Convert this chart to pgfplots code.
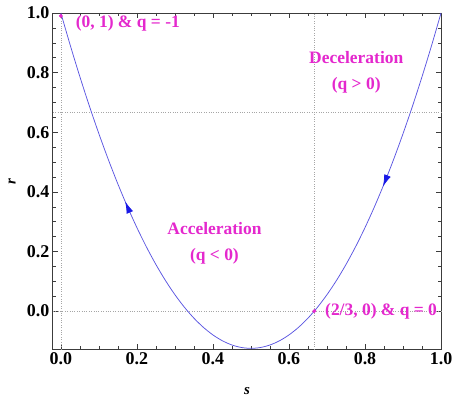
\documentclass[border=0pt]{standalone}
\usepackage{fontspec}
\setmainfont{Liberation Serif}
\usepackage{pgfplots}
\pgfplotsset{compat=1.18}
\usetikzlibrary{decorations.markings,arrows.meta}

\definecolor{curve}{RGB}{90,85,225}
\definecolor{arr}{RGB}{25,25,230}
\definecolor{lbl}{RGB}{228,40,205}
\definecolor{frame}{RGB}{60,60,60}

\begin{document}
\begin{tikzpicture}
  \begin{axis}[
    scale only axis,
    width=389pt, height=337pt,
    xmin=-0.021, xmax=1.0,
    ymin=-0.128, ymax=1.0,
    xtick={0,0.2,0.4,0.6,0.8,1.0},
    ytick={0,0.2,0.4,0.6,0.8,1.0},
    minor tick num=3,
    tick align=inside,
    major tick length=5pt, minor tick length=3pt,
    tick style={frame, thin},
    xticklabel style={/pgf/number format/.cd, fixed, fixed zerofill, precision=1},
    yticklabel style={/pgf/number format/.cd, fixed, fixed zerofill, precision=1},
    /pgf/number format/assume math mode=true,
    ticklabel style={font=\fontsize{18}{20}\selectfont\bfseries},
    xlabel={\textbf{\textit{s}}}, ylabel={\textbf{\textit{r}}},
    label style={font=\fontsize{15}{17}\selectfont},
    xlabel style={at={(axis description cs:0.5,-0.125)}, anchor=center},
    ylabel style={at={(axis description cs:-0.105,0.5)}, anchor=center},
    axis line style={frame, line width=0.9pt},
    clip=false,
  ]
    \addplot[gray!70, dotted, thin] coordinates {(0,-0.128) (0,1)};
    \addplot[gray!70, dotted, thin] coordinates {(0.6667,-0.128) (0.6667,1)};
    \addplot[gray!70, dotted, thin] coordinates {(-0.021,0) (1,0)};
    \addplot[gray!70, dotted, thin] coordinates {(-0.021,0.6667) (1,0.6667)};

    \addplot[curve, line width=0.75pt, smooth,
      decoration={markings,
        mark=at position 0.228 with {\arrow[arr]{Latex[length=12pt,width=7pt]}},
        mark=at position 0.752 with {\arrow[arr]{Latex[length=12pt,width=7pt]}}},
      postaction={decorate}]
      coordinates {
      (1,1) (0.975,0.8903) (0.95,0.78625) (0.925,0.6878) (0.9,0.595)
      (0.875,0.5078) (0.85,0.42625) (0.825,0.3503) (0.8,0.28) (0.775,0.2153)
      (0.75,0.15625) (0.725,0.1028) (0.7,0.055) (0.675,0.0128) (0.65,-0.02375)
      (0.625,-0.0547) (0.6,-0.08) (0.575,-0.0997) (0.55,-0.11375) (0.525,-0.1222)
      (0.5,-0.125) (0.475,-0.1222) (0.45,-0.11375) (0.425,-0.0997) (0.4,-0.08)
      (0.375,-0.0547) (0.35,-0.02375) (0.325,0.0128) (0.3,0.055) (0.275,0.1028)
      (0.25,0.15625) (0.225,0.2153) (0.2,0.28) (0.175,0.3503) (0.15,0.42625)
      (0.125,0.5078) (0.1,0.595) (0.075,0.6878) (0.05,0.78625) (0.025,0.8903)
      (0,1)};

    \addplot[only marks, mark=*, lbl, mark size=1.8pt] coordinates {(0,0.99) (0.6667,0)};

    \node[lbl, anchor=west, font=\fontsize{17.5}{20}\selectfont\bfseries] at (axis cs:0.03,0.967) {(0, 1) \& q = -1};
    \node[lbl, anchor=west, font=\fontsize{17.5}{20}\selectfont\bfseries] at (axis cs:0.686,0.0) {(2/3, 0) \& q = 0};
    \node[lbl, align=center, font=\fontsize{17.5}{26}\selectfont\bfseries] at (axis cs:0.777,0.80) {Deceleration\\(q > 0)};
    \node[lbl, align=center, font=\fontsize{17.5}{26}\selectfont\bfseries] at (axis cs:0.404,0.228) {Acceleration\\(q < 0)};

    \coordinate (sw) at (rel axis cs:0,0);
    \coordinate (ne) at (rel axis cs:1,1);
  \end{axis}
  \pgfresetboundingbox
  \path ([xshift=-53pt,yshift=-50pt]sw) rectangle ([xshift=13pt,yshift=13pt]ne);
\end{tikzpicture}
\end{document}
